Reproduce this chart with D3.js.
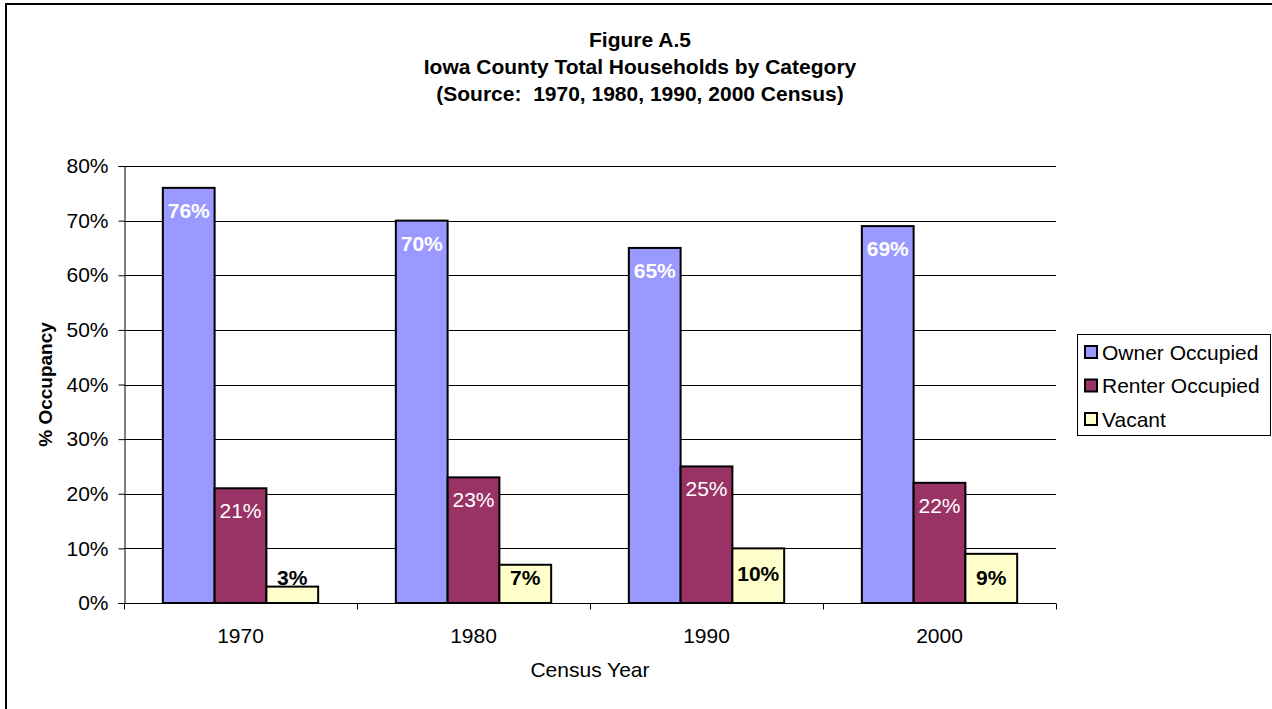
<!DOCTYPE html>
<html>
<head>
<meta charset="utf-8">
<script src="https://cdn.jsdelivr.net/npm/d3@7/dist/d3.min.js"></script>
<style>
  html, body { margin: 0; padding: 0; background: #fff; }
  svg { display: block; font-family: "Liberation Sans", Arial, sans-serif; }
</style>
</head>
<body>
<svg id="chart" width="1272" height="709"></svg>
<script>
// ---- data ----
const years = ["1970", "1980", "1990", "2000"];
const seriesNames = ["Owner Occupied", "Renter Occupied", "Vacant"];
const ownerOccupied = [76, 70, 65, 69];
const renterOccupied = [21, 23, 25, 22];
const vacant = [3, 7, 10, 9];
const yTickValues = [0, 10, 20, 30, 40, 50, 60, 70, 80];
const titleLines = ["Figure A.5", "Iowa County Total Households by Category", "(Source:\u00a0 1970, 1980, 1990, 2000 Census)"];
const xAxisTitle = "Census Year";
const yAxisTitle = "% Occupancy";

const seriesValues = [ownerOccupied, renterOccupied, vacant];
const seriesColors = ["#9999FF", "#993366", "#FFFFCC"];

// ---- layout ----
const svg = d3.select("#chart");
const plot = { left: 124, right: 1056, top: 166, bottom: 603 };

// outer chart border (cropped at right/bottom)
svg.append("rect")
  .attr("x", 6).attr("y", 4)
  .attr("width", 1300).attr("height", 800)
  .attr("fill", "none").attr("stroke", "#000").attr("stroke-width", 2);

// title
const title = svg.append("text")
  .attr("text-anchor", "middle")
  .attr("font-weight", "bold")
  .attr("font-size", 21)
  .attr("fill", "#000");
titleLines.forEach((t, i) => {
  title.append("tspan").attr("x", 640).attr("y", 47 + i * 27).text(t);
});

const x0 = d3.scaleBand().domain(years).range([plot.left, plot.right]).paddingInner(0).paddingOuter(0);
const x1 = d3.scaleBand().domain(seriesNames).range([0, x0.bandwidth()]).paddingInner(0).paddingOuter(0.75);
const y = d3.scaleLinear().domain([0, 80]).range([plot.bottom, plot.top]);

// gridlines
svg.append("g").selectAll("line").data(yTickValues.filter(v => v > 0)).join("line")
  .attr("x1", plot.left).attr("x2", plot.right)
  .attr("y1", d => Math.round(y(d)) + 0.5).attr("y2", d => Math.round(y(d)) + 0.5)
  .attr("stroke", "#000").attr("stroke-width", 1);

// y axis
const yAxis = svg.append("g")
  .attr("transform", `translate(${plot.left + 0.5},0)`)
  .call(d3.axisLeft(y).tickValues(yTickValues).tickFormat(d => d + "%").tickSize(6).tickPadding(10));
yAxis.select(".domain").attr("stroke", "#000").attr("stroke-width", 1);
yAxis.selectAll(".tick line").attr("stroke", "#000");
yAxis.selectAll(".tick text")
  .attr("font-family", "'Liberation Sans', Arial, sans-serif")
  .attr("font-size", 21).attr("fill", "#000");

// x axis line + category boundary ticks
const xb = Math.round(y(0)) + 0.5;
svg.append("line")
  .attr("x1", plot.left).attr("x2", plot.right)
  .attr("y1", xb).attr("y2", xb)
  .attr("stroke", "#000").attr("stroke-width", 1);
const boundaries = years.map(d => x0(d)).concat([x0.range()[1]]);
svg.append("g").selectAll("line").data(boundaries).join("line")
  .attr("x1", d => Math.round(d) + 0.5).attr("x2", d => Math.round(d) + 0.5)
  .attr("y1", xb).attr("y2", xb + 6)
  .attr("stroke", "#000");

const xAxis = svg.append("g")
  .attr("transform", `translate(0,${plot.bottom})`)
  .call(d3.axisBottom(x0).tickSize(0).tickPadding(25));
xAxis.select(".domain").remove();
xAxis.selectAll(".tick text")
  .attr("font-family", "'Liberation Sans', Arial, sans-serif")
  .attr("font-size", 21).attr("fill", "#000");

// bars
const barData = [];
years.forEach((yr, i) => {
  seriesNames.forEach((s, j) => {
    barData.push({ year: yr, series: s, idx: j, value: seriesValues[j][i] });
  });
});

svg.append("g").selectAll("rect").data(barData).join("rect")
  .attr("x", d => x0(d.year) + x1(d.series))
  .attr("y", d => y(d.value))
  .attr("width", x1.bandwidth())
  .attr("height", d => y(0) - y(d.value))
  .attr("fill", d => seriesColors[d.idx])
  .attr("stroke", "#000").attr("stroke-width", 2);

// value labels
svg.append("g").selectAll("text").data(barData).join("text")
  .attr("x", d => x0(d.year) + x1(d.series) + x1.bandwidth() / 2)
  .attr("y", d => {
    const top = y(d.value);
    if (d.idx === 2) return Math.min(top + 33, plot.bottom - 18);
    return top + 30;
  })
  .attr("text-anchor", "middle")
  .attr("font-size", 21)
  .attr("font-weight", d => d.idx === 1 ? "normal" : "bold")
  .attr("fill", d => d.idx === 2 ? "#000" : "#fff")
  .text(d => d.value + "%");

// axis titles
svg.append("text")
  .attr("x", 590).attr("y", 677)
  .attr("text-anchor", "middle")
  .attr("font-size", 21).attr("fill", "#000")
  .text(xAxisTitle);

svg.append("text")
  .attr("transform", `translate(52,${(plot.top + plot.bottom) / 2}) rotate(-90)`)
  .attr("text-anchor", "middle")
  .attr("font-size", 19).attr("font-weight", "bold").attr("fill", "#000")
  .text(yAxisTitle);

// legend
const legend = svg.append("g");
legend.append("rect")
  .attr("x", 1077.5).attr("y", 334.5).attr("width", 193).attr("height", 101)
  .attr("fill", "#fff").attr("stroke", "#000").attr("stroke-width", 1);
const items = legend.selectAll("g.item").data(seriesNames).join("g")
  .attr("class", "item")
  .attr("transform", (d, i) => `translate(1085,${346 + i * 33.5})`);
items.append("rect")
  .attr("x", 0).attr("y", 0).attr("width", 12).attr("height", 12)
  .attr("fill", (d, i) => seriesColors[i])
  .attr("stroke", "#000").attr("stroke-width", 2);
items.append("text")
  .attr("x", 17).attr("y", 13.5)
  .attr("font-size", 21).attr("fill", "#000")
  .text(d => d);
</script>
</body>
</html>
